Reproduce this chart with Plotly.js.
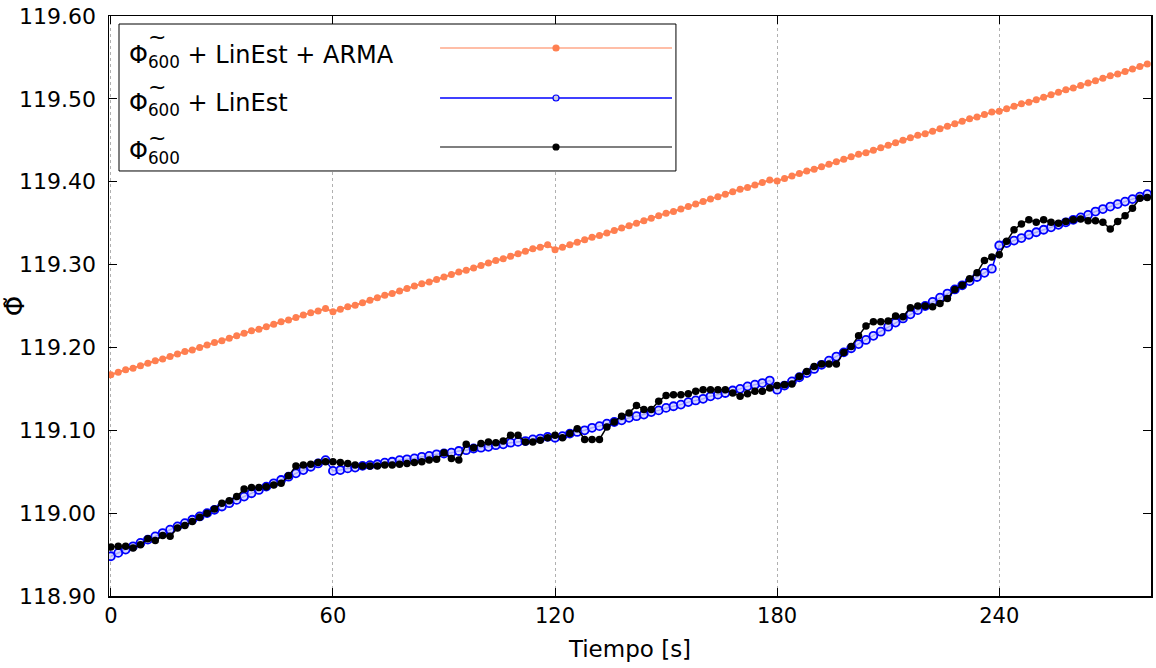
<!DOCTYPE html>
<html>
<head>
<meta charset="utf-8">
<script src="https://cdn.plot.ly/plotly-3.0.1.min.js"></script>
<style>html,body{margin:0;padding:0;background:#fff;}#chart{width:1156px;height:668px;}</style>
</head>
<body>
<div id="chart"></div>
<script>
// Time samples [s]
const time = [0,2,4,6,8,10,12,14,16,18,20,22,24,26,28,30,32,34,36,38,40,42,44,46,48,50,52,54,56,58,
60,62,64,66,68,70,72,74,76,78,80,82,84,86,88,90,92,94,96,98,100,102,104,106,108,110,112,114,116,118,
120,122,124,126,128,130,132,134,136,138,140,142,144,146,148,150,152,154,156,158,160,162,164,166,168,170,172,174,176,178,
180,182,184,186,188,190,192,194,196,198,200,202,204,206,208,210,212,214,216,218,220,222,224,226,228,230,232,234,236,238,
240,242,244,246,248,250,252,254,256,258,260,262,264,266,268,270,272,274,276,278,280];

// Φ600 + LinEst + ARMA
const phiLinArma = [119.167,119.170,119.173,119.175,119.178,119.181,119.184,119.186,119.189,119.192,119.195,119.197,119.200,119.203,119.206,119.208,119.211,119.214,119.217,119.220,119.222,119.225,119.228,119.231,119.233,119.236,119.239,119.242,119.244,119.247,
119.243,119.246,119.249,119.251,119.254,119.257,119.260,119.263,119.265,119.268,119.271,119.274,119.277,119.279,119.282,119.285,119.288,119.291,119.293,119.296,119.299,119.302,119.305,119.307,119.310,119.313,119.316,119.319,119.321,119.324,
119.318,119.321,119.324,119.327,119.330,119.333,119.335,119.338,119.341,119.344,119.347,119.350,119.353,119.356,119.359,119.362,119.364,119.367,119.370,119.373,119.376,119.379,119.382,119.385,119.388,119.391,119.393,119.396,119.399,119.402,
119.401,119.404,119.407,119.410,119.413,119.415,119.418,119.421,119.424,119.427,119.430,119.433,119.435,119.438,119.441,119.444,119.447,119.450,119.453,119.456,119.458,119.461,119.464,119.467,119.470,119.473,119.476,119.478,119.481,119.484,
119.485,119.488,119.491,119.494,119.496,119.499,119.502,119.505,119.508,119.511,119.513,119.516,119.519,119.522,119.525,119.528,119.530,119.533,119.536,119.539,119.542];

// Φ600 + LinEst
const phiLin = [118.948,118.952,118.956,118.960,118.964,118.968,118.972,118.976,118.980,118.984,118.988,118.992,118.996,119.000,119.004,119.008,119.012,119.016,119.020,119.024,119.028,119.032,119.036,119.040,119.044,119.048,119.052,119.056,119.060,119.064,
119.051,119.052,119.054,119.055,119.057,119.058,119.059,119.061,119.062,119.064,119.065,119.066,119.068,119.069,119.071,119.072,119.073,119.075,119.076,119.078,119.079,119.080,119.082,119.083,119.085,119.086,119.087,119.089,119.090,119.092,
119.091,119.093,119.096,119.098,119.100,119.103,119.105,119.108,119.110,119.112,119.115,119.117,119.119,119.122,119.124,119.127,119.129,119.131,119.134,119.136,119.138,119.141,119.143,119.145,119.148,119.150,119.153,119.155,119.157,119.160,
119.149,119.154,119.159,119.164,119.169,119.174,119.179,119.184,119.189,119.194,119.199,119.204,119.209,119.214,119.219,119.225,119.230,119.235,119.240,119.245,119.250,119.255,119.260,119.265,119.270,119.275,119.280,119.285,119.290,119.295,
119.323,119.326,119.329,119.332,119.336,119.339,119.342,119.345,119.348,119.351,119.354,119.357,119.360,119.364,119.367,119.370,119.373,119.376,119.379,119.382,119.385];

// Φ600
const phi = [118.959,118.960,118.960,118.958,118.962,118.969,118.967,118.973,118.972,118.982,118.985,118.990,118.995,119.000,119.005,119.012,119.015,119.020,119.029,119.031,119.031,119.032,119.034,119.036,119.045,119.057,119.058,119.059,119.061,119.062,
119.062,119.061,119.060,119.058,119.057,119.057,119.057,119.058,119.058,119.059,119.060,119.061,119.062,119.064,119.065,119.073,119.066,119.064,119.083,119.079,119.084,119.086,119.085,119.087,119.094,119.094,119.086,119.086,119.088,119.091,
119.094,119.091,119.096,119.102,119.089,119.089,119.089,119.104,119.110,119.117,119.121,119.130,119.125,119.125,119.135,119.142,119.143,119.143,119.144,119.147,119.149,119.149,119.149,119.149,119.145,119.141,119.144,119.147,119.147,119.151,
119.154,119.155,119.156,119.165,119.171,119.177,119.180,119.180,119.180,119.194,119.201,119.214,119.226,119.231,119.231,119.232,119.238,119.237,119.248,119.250,119.250,119.249,119.253,119.259,119.270,119.275,119.283,119.290,119.305,119.309,
119.312,119.328,119.342,119.349,119.354,119.351,119.354,119.351,119.350,119.352,119.354,119.355,119.353,119.353,119.351,119.343,119.352,119.359,119.368,119.380,119.381];

const xTicks = [0,60,120,180,240];
const yTicks = [118.9,119.0,119.1,119.2,119.3,119.4,119.5,119.6];
const legendLabels = ['Φ<sub>600</sub> + LinEst + ARMA','Φ<sub>600</sub> + LinEst','Φ<sub>600</sub>'];
const colors = ['#FF7F50','#0000FF','#000000'];

const FONT = 'DejaVu Sans, sans-serif';

const traces = [
  {x: time, y: phiLinArma, mode: 'lines+markers', line:{color:colors[0], width:2},
   marker:{color:colors[0], size:7, symbol:'circle'}, showlegend:false},
  {x: time, y: phiLin, mode: 'lines+markers', line:{color:colors[1], width:1.5},
   marker:{color:'rgba(210,210,255,0.8)', size:8, symbol:'circle', line:{color:colors[1], width:1.8}}, showlegend:false},
  {x: time, y: phi, mode: 'lines+markers', line:{color:colors[2], width:1.5},
   marker:{color:colors[2], size:7.5, symbol:'circle'}, showlegend:false}
];

// custom legend (matplotlib style: text left, line sample right)
const L = {x0:0.0096, x1:0.5441, y0:0.7328, y1:0.9862};
const rowsY = [0.9448, 0.8586, 0.7741];
const textY = [0.9310, 0.8466, 0.7638];
const tildeY = [0.9638, 0.8793, 0.7897];
const shapes = [
  {type:'rect', xref:'paper', yref:'paper', x0:L.x0, x1:L.x1, y0:L.y0, y1:L.y1,
   line:{color:'#000', width:1}, fillcolor:'#fff', layer:'above'}
];
const annotations = [];
for (let i=0;i<3;i++){
  shapes.push({type:'line', xref:'paper', yref:'paper', x0:0.3177, x1:0.5403, y0:rowsY[i], y1:rowsY[i],
    line:{color:colors[i], width: i===1?1.6:1.2}, layer:'above'});
  const cx = 0.4290, rx = 3/1042, ry = 3/580;
  shapes.push({type:'circle', xref:'paper', yref:'paper', x0:cx-rx, x1:cx+rx, y0:rowsY[i]-ry, y1:rowsY[i]+ry,
    line:{color:colors[i], width:1.2}, fillcolor: i===1 ? '#ccd' : colors[i], layer:'above'});
  annotations.push({xref:'paper', yref:'paper', x:0.0173, y:textY[i], xanchor:'left', yanchor:'middle',
    text: legendLabels[i], showarrow:false, font:{family:FONT, size:24, color:'#000'}});
  annotations.push({xref:'paper', yref:'paper', x:0.0460, y:tildeY[i], xanchor:'center', yanchor:'middle',
    text:'~', showarrow:false, font:{family:FONT, size:22, color:'#000'}});
}

const layout = {
  width:1156, height:668,
  margin:{l:109, r:5, t:16, b:72},
  paper_bgcolor:'#fff', plot_bgcolor:'#fff',
  font:{family:FONT, color:'#000'},
  showlegend:false,
  xaxis:{range:[-0.5,281], tickvals:xTicks, ticktext:xTicks.map(String),
    showline:true, mirror:'ticks', linecolor:'#000', linewidth:1.5,
    ticks:'inside', ticklen:8, tickwidth:1, tickcolor:'#000',
    showgrid:true, gridcolor:'#b0b0b0', griddash:'dot', gridwidth:1, zeroline:false,
    tickfont:{family:FONT, size:21, color:'#000'},
    title:{text:'Tiempo [s]', font:{family:FONT, size:23, color:'#000'}, standoff:14}},
  yaxis:{range:[118.9,119.6], tickvals:yTicks, tickformat:'.2f',
    showline:true, mirror:'ticks', linecolor:'#000', linewidth:1.5,
    ticks:'inside', ticklen:8, tickwidth:1, tickcolor:'#000',
    showgrid:false, zeroline:false, ticklabelstandoff:7,
    tickfont:{family:FONT, size:22, color:'#000'},
    title:{text:'Φ̃', font:{family:FONT, size:26, color:'#000'}, standoff:2}},
  shapes: shapes,
  annotations: annotations
};

Plotly.newPlot('chart', traces, layout, {displayModeBar:false, staticPlot:true});
</script>
</body>
</html>
